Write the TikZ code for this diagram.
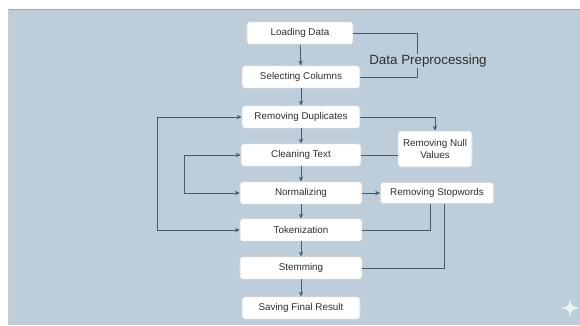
\documentclass[tikz,border=0pt]{standalone}
\usepackage{fontspec}
\setmainfont{Liberation Sans}
\usepackage{tikz}
\usepackage{xcolor}
\usetikzlibrary{arrows.meta}

\definecolor{bgblue}{HTML}{BDCEDA}
\definecolor{wire}{HTML}{435B6C}
\definecolor{inktext}{HTML}{2F2F2F}

\tikzset{
  stage/.style={draw=gray!35, fill=white, rounded corners=2pt, line width=0.4pt,
    text=inktext, font=\fontsize{7}{8}\selectfont, minimum height=0.56cm, inner sep=1pt},
  wideline/.style={draw=wire, line width=0.6pt},
  flow/.style={wideline, -{Stealth[length=3.5pt,width=3pt]}},
  twoway/.style={wideline, {Stealth[length=3.5pt,width=3pt]}-{Stealth[length=3.5pt,width=3pt]}}
}

\begin{document}
\begin{tikzpicture}[x=0.025cm, y=-0.025cm]
\useasboundingbox (0,0) rectangle (580,325);
\fill[white] (0,0) rectangle (580,325);
\fill[bgblue] (8,9) rectangle (580,325);
\draw[gray!70, line width=0.5pt] (8,9) -- (580,9);
\draw[gray!40, line width=0.5pt] (8,9) -- (8,325);

% main column
\node[stage, minimum width=2.65cm] (load) at (300,33) {Loading Data};
\node[stage, minimum width=2.95cm] (select) at (301,77) {Selecting Columns};
\node[stage, minimum width=2.95cm] (dup) at (301,117) {Removing Duplicates};
\node[stage, minimum width=3.0cm] (clean) at (301,155) {Cleaning Text};
\node[stage, minimum width=3.05cm] (norm) at (301,193) {Normalizing};
\node[stage, minimum width=3.05cm] (tok) at (301,230) {Tokenization};
\node[stage, minimum width=3.05cm] (stem) at (301,268) {Stemming};
\node[stage, minimum width=2.95cm] (save) at (301,308) {Saving Final Result};

% side boxes
\node[stage, minimum width=1.85cm, minimum height=0.9cm, align=center] (null) at (435,149) {Removing Null\\Values};
\node[stage, minimum width=2.83cm, minimum height=0.53cm] (stop) at (437,193) {Removing Stopwords};

\coordinate (brk) at (417,0);
\coordinate (outer) at (157,0);
\coordinate (inner) at (184,0);

\draw[flow] (load) -- (select);
\draw[flow] (select) -- (dup);
\draw[flow] (dup) -- (clean);
\draw[flow] (clean) -- (norm);
\draw[flow] (norm) -- (tok);
\draw[flow] (tok) -- (stem);
\draw[flow] (stem) -- (save);

\draw[wideline] (load.east) -- (load.east -| brk) |- (select.east);

% label sits over the bracket line
\node[text=inktext, fill=bgblue, inner sep=0.5pt, font=\fontsize{9.5}{11}\selectfont] (prep) at (428,61) {Data Preprocessing};

\draw[twoway] (dup.west) -- (dup.west -| outer) |- (tok.west);
\draw[twoway] (clean.west) -- (clean.west -| inner) |- (norm.west);

\draw[flow] (dup.east) -| (null.north);
\draw[wideline] (clean.east) -- (clean.east -| null.west);
\draw[flow] (norm.east) -- (stop.west);
\draw[wideline] ([xshift=-0.175cm]stop.south) |- (tok.east);
\draw[wideline] ([xshift=0.175cm]stop.south) |- (stem.east);

% sparkle
\fill[white, opacity=0.7] (570,298) .. controls (571,306) .. (580,308)
  .. controls (571,310) .. (570,318) .. controls (569,310) .. (560,308)
  .. controls (569,306) .. (570,298);
\end{tikzpicture}
\end{document}
